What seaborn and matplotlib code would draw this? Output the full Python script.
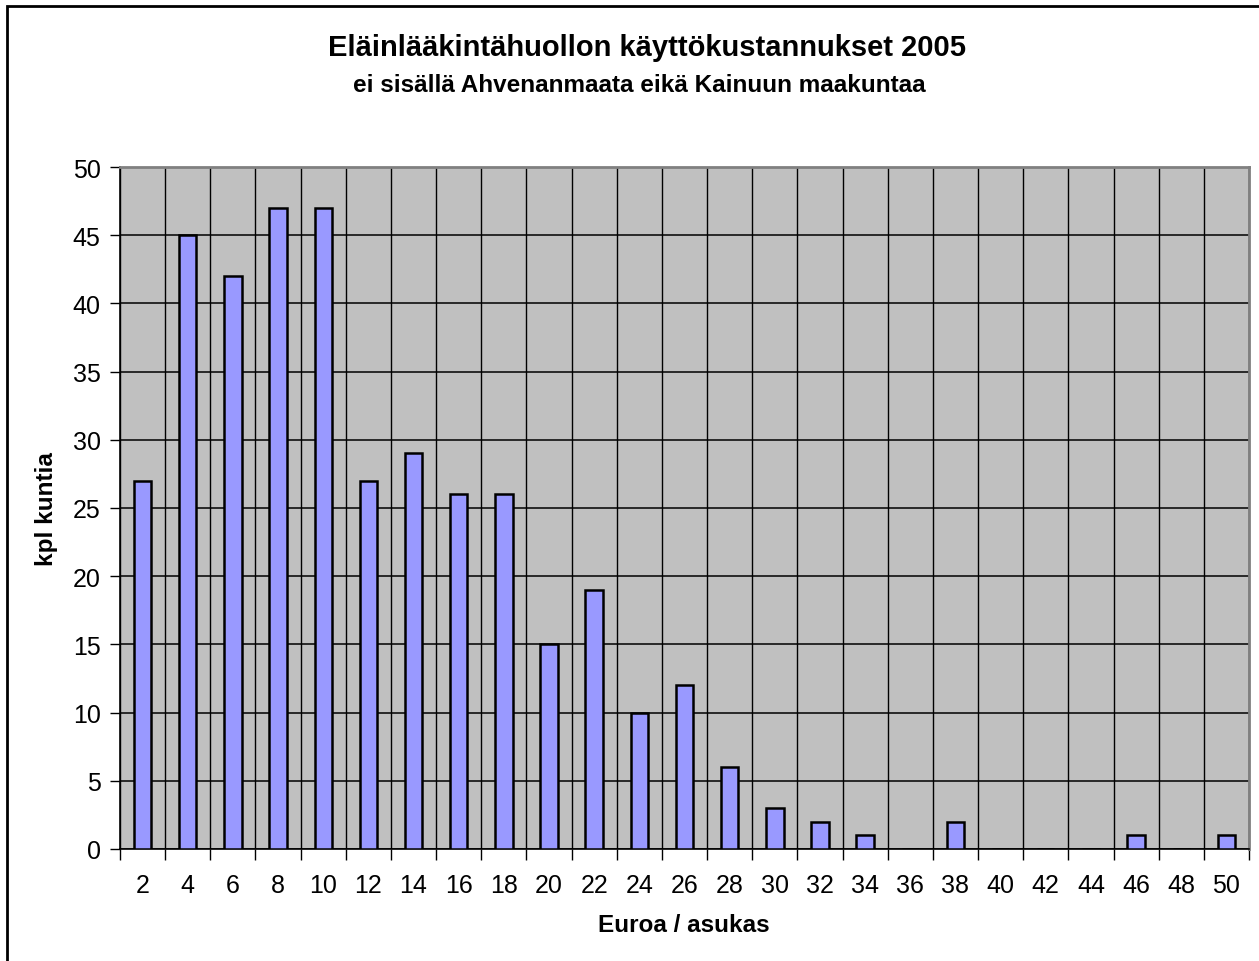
import matplotlib
matplotlib.use("Agg")
import matplotlib.pyplot as plt
import seaborn as sns
from matplotlib.patches import Rectangle
from matplotlib.ticker import MultipleLocator, FixedLocator

# Data
euroa = ["2", "4", "6", "8", "10", "12", "14", "16", "18", "20", "22", "24", "26",
         "28", "30", "32", "34", "36", "38", "40", "42", "44", "46", "48", "50"]
kuntia = [27, 45, 42, 47, 47, 27, 29, 26, 26, 15, 19, 10, 12,
          6, 3, 2, 1, 0, 2, 0, 0, 0, 1, 0, 1]

sns.set_style("white")
plt.rcParams['font.family'] = ['Liberation Sans', 'DejaVu Sans']
plt.rcParams['text.color'] = 'black'
plt.rcParams['xtick.color'] = 'black'
plt.rcParams['ytick.color'] = 'black'

fig = plt.figure(figsize=(12.59, 9.62), dpi=100)
ax = fig.add_axes([120 / 1259, 1 - 850 / 962, 1129 / 1259, 682 / 962])
ax.set_facecolor('#C0C0C0')

sns.barplot(x=euroa, y=kuntia, color='#9999FF', edgecolor='black',
            linewidth=1.8, width=0.385, saturation=1, ax=ax, zorder=3)

ax.set_xlim(-0.5, len(euroa) - 0.5)
ax.set_ylim(0, 50)
ax.yaxis.set_major_locator(MultipleLocator(5))

# vertical grid at category boundaries, horizontal at every 5
bounds = [i - 0.5 for i in range(len(euroa) + 1)]
ax.xaxis.set_minor_locator(FixedLocator(bounds))
ax.grid(axis='y', which='major', color='black', linewidth=1.1, zorder=1)
ax.grid(axis='x', which='minor', color='black', linewidth=1.0, zorder=1)
ax.set_axisbelow(True)

ax.tick_params(axis='x', which='major', length=0, pad=17, labelsize=18)
ax.tick_params(axis='x', which='minor', length=8, width=1, direction='out',
               color='black', bottom=True)
ax.tick_params(axis='y', which='major', length=7, width=1, direction='out',
               color='black', pad=7, labelsize=18, left=True)

for s in ['top', 'right']:
    ax.spines[s].set_color('#808080')
    ax.spines[s].set_linewidth(2)
for s in ['left', 'bottom']:
    ax.spines[s].set_color('black')
    ax.spines[s].set_linewidth(1.2)

ax.set_xlabel('')
ax.set_ylabel('')
fig.text(684 / 1259, 1 - 926 / 962, 'Euroa / asukas', ha='center', va='center',
         fontsize=17.5, fontweight='bold')
fig.text(47 / 1259, 1 - 509 / 962, 'kpl kuntia', ha='center', va='center',
         rotation=90, fontsize=17.5, fontweight='bold')

fig.text(647 / 1259, 1 - 48 / 962, 'Eläinlääkintähuollon käyttökustannukset 2005',
         ha='center', va='center', fontsize=21, fontweight='bold')
fig.text(639 / 1259, 1 - 86 / 962, 'ei sisällä Ahvenanmaata eikä Kainuun maakuntaa',
         ha='center', va='center', fontsize=17.5, fontweight='bold')

# outer chart frame (runs off the right and bottom edges)
fig.patches.append(Rectangle((7 / 1259, -0.05), 1.1, 1 - 7 / 962 + 0.05,
                             transform=fig.transFigure, fill=False,
                             edgecolor='black', linewidth=2))

fig.savefig('out.png', dpi=100)
